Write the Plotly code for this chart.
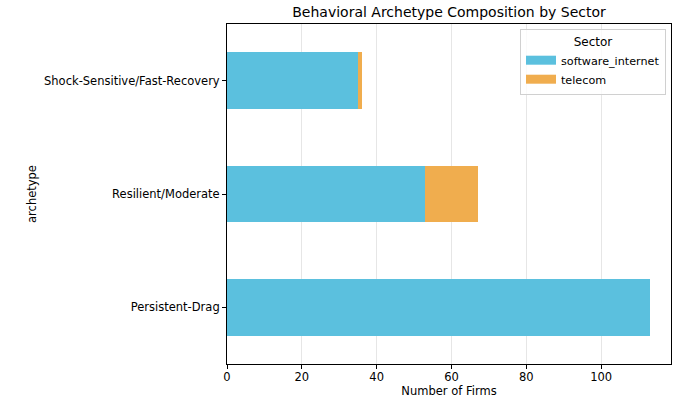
import plotly.graph_objects as go

archetypes = ["Persistent-Drag", "Resilient/Moderate", "Shock-Sensitive/Fast-Recovery"]
software_internet = [113, 53, 35]
telecom = [0, 14, 1]
series_names = ["software_internet", "telecom"]
colors = ["#5bc0de", "#f0ad4e"]
x_ticks = [0, 20, 40, 60, 80, 100]

fig = go.Figure()
for name, vals, c in zip(series_names, [software_internet, telecom], colors):
    fig.add_trace(go.Bar(
        y=archetypes, x=vals, name=name, orientation="h", showlegend=False,
        marker=dict(color=c, line=dict(width=0)), width=0.5,
    ))
# legend entries drawn as wide swatches
for name, c in zip(series_names, colors):
    fig.add_trace(go.Scatter(x=[None], y=[None], mode="lines", name=name,
                             line=dict(color=c, width=9)))

font = "DejaVu Sans"
W, H = 691, 403
fs = 11.5
fig.update_layout(
    barmode="stack",
    width=W, height=H,
    margin=dict(l=227, r=20, t=24, b=39),
    paper_bgcolor="white", plot_bgcolor="white",
    font=dict(family=font, size=fs, color="black"),
    title=dict(text="Behavioral Archetype Composition by Sector", x=0.5, xref="paper", xanchor="center",
               y=1 - 12 / H, yref="container", yanchor="middle", font=dict(size=14, family=font)),
    xaxis=dict(range=[0, 118.65], tickvals=x_ticks, showgrid=True, gridcolor="#e6e6e6",
               gridwidth=1, showline=True, linecolor="black", linewidth=1, mirror=True,
               ticks="outside", ticklen=4, tickcolor="black", zeroline=False, automargin=False,
               ticklabelstandoff=-2,
               title=dict(text="Number of Firms", font=dict(size=fs), standoff=2),
               tickfont=dict(size=fs)),
    yaxis=dict(range=[-0.5, 2.5], showgrid=False, showline=True, linecolor="black", linewidth=1,
               mirror=True, ticks="outside", ticklen=4, tickcolor="black", automargin=False,
               title=dict(text="archetype", font=dict(size=fs), standoff=5),
               tickfont=dict(size=fs)),
    legend=dict(x=0.9887, y=0.985, xanchor="right", yanchor="top",
                bordercolor="#d0d0d0", borderwidth=1, bgcolor="rgba(255,255,255,0.8)",
                title=dict(text="Sector", side="top center", font=dict(size=12)),
                font=dict(size=11.2), traceorder="normal", tracegroupgap=0),
)
fig.write_html("out.html", config={"displayModeBar": False},
               post_script="document.body.style.margin='0';")
